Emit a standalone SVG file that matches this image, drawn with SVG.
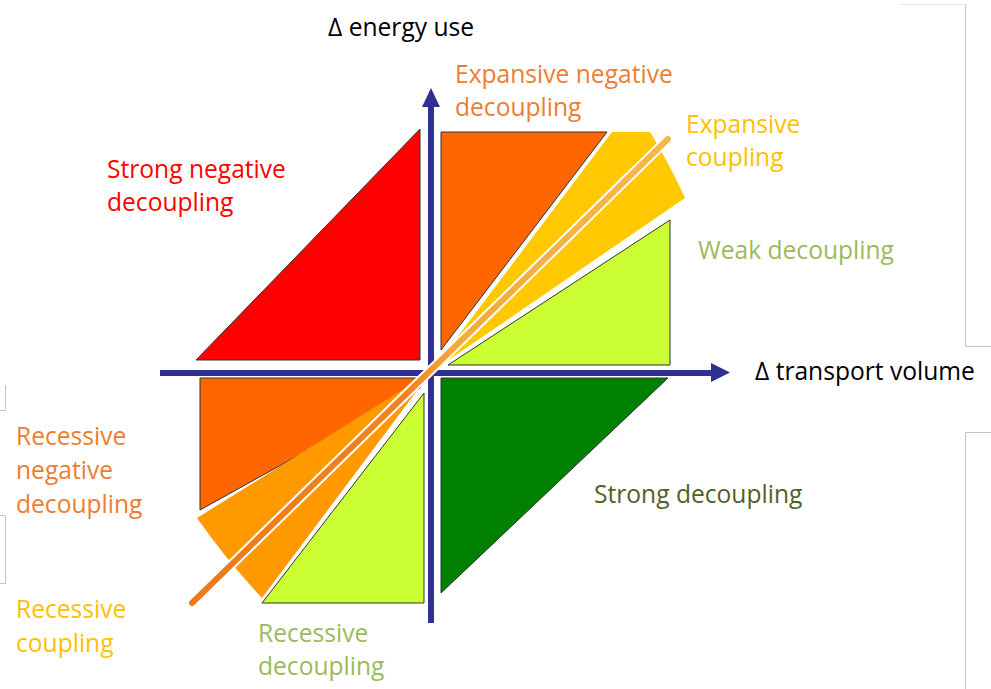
<svg xmlns="http://www.w3.org/2000/svg" width="991" height="689" viewBox="0 0 991 689">
<style>
.lbl{font-family:"Open Sans","Liberation Sans",sans-serif;font-size:24.6px}
.tri{stroke:#333;stroke-width:1}
.axis{stroke:#303092;stroke-width:6;fill:none}
.frame{stroke:#c4c4c4;stroke-width:1;fill:none}
</style>
<defs>
<linearGradient id="lg" gradientUnits="userSpaceOnUse" x1="668" y1="139" x2="192" y2="603">
<stop offset="0" stop-color="#f6b84a"/>
<stop offset="0.45" stop-color="#f4a93c"/>
<stop offset="0.55" stop-color="#ef841f"/>
<stop offset="1" stop-color="#ec7a1c"/>
</linearGradient>
</defs>
<rect width="991" height="689" fill="#fff"/>
<g id="frames">
<path d="M900 4.5H965.5" stroke="#e6e6e6" stroke-width="1" fill="none"/>
<path class="frame" d="M965.5 4.5V346.5H991"/>
<path class="frame" d="M991 432.5H965.5V689"/>
<path class="frame" d="M5.5 385V410.5H0"/>
<path class="frame" d="M0 515.5H5.5V583.5H0"/>
</g>
<g id="axes">
<line class="axis" x1="160" y1="373" x2="713" y2="373"/>
<polygon points="711,363 730,372.5 711,382" fill="#303092"/>
<line class="axis" x1="431" y1="623" x2="431" y2="106"/>
<polygon points="422,107 431,88 440,107" fill="#303092"/>
</g>
<g id="strong-negative-decoupling">
<polygon class="tri" points="196,360 420,360 420,129" fill="#ff0000"/>
</g>
<g id="expansive-negative-decoupling">
<polygon class="tri" points="441,132 607,132 441,350" fill="#ff6600"/>
</g>
<g id="weak-decoupling">
<polygon class="tri" points="448,365 670,365 670,220" fill="#ccff33"/>
</g>
<g id="strong-decoupling">
<polygon class="tri" points="441,378 668,378 441,593" fill="#008000"/>
</g>
<g id="recessive-negative-decoupling">
<polygon class="tri" points="200,378 420,378 420,388 200,510" fill="#ff6600"/>
</g>
<g id="recessive-decoupling">
<polygon class="tri" points="262,603 424,603 424,393" fill="#ccff33"/>
</g>
<g id="expansive-coupling">
<path d="M431,372 L612,132 L650,132 Q670,165 685,198 Z" fill="#ffc800"/>
</g>
<g id="recessive-coupling">
<path d="M431,372 L197,518 Q228,562 262,598 Z" fill="#ff9900"/>
</g>
<g id="connectors">
<line x1="668" y1="139" x2="192" y2="603" stroke="#fff" stroke-width="10" stroke-linecap="round"/>
<line x1="668" y1="139" x2="192" y2="603" stroke="url(#lg)" stroke-width="6" stroke-linecap="round"/>
</g>
<g id="labels">
<text class="lbl" x="328" y="36" fill="#000">Δ energy use</text>
<text class="lbl" x="755" y="380" fill="#000">Δ transport volume</text>
<text class="lbl" x="455" y="83" fill="#ed7d31">Expansive negative</text>
<text class="lbl" x="455" y="116" fill="#ed7d31">decoupling</text>
<text class="lbl" x="686" y="133" fill="#ffc000">Expansive</text>
<text class="lbl" x="686" y="166" fill="#ffc000">coupling</text>
<text class="lbl" x="107" y="178" fill="#ff0000">Strong negative</text>
<text class="lbl" x="107" y="211" fill="#ff0000">decoupling</text>
<text class="lbl" x="698" y="259" fill="#9bbb59">Weak decoupling</text>
<text class="lbl" x="594" y="503" fill="#4f6228">Strong decoupling</text>
<text class="lbl" x="16" y="445" fill="#ed7d31">Recessive</text>
<text class="lbl" x="16" y="479" fill="#ed7d31">negative</text>
<text class="lbl" x="16" y="513" fill="#ed7d31">decoupling</text>
<text class="lbl" x="16" y="618" fill="#ffc000">Recessive</text>
<text class="lbl" x="16" y="652" fill="#ffc000">coupling</text>
<text class="lbl" x="258" y="642" fill="#9bbb59">Recessive</text>
<text class="lbl" x="258" y="675" fill="#9bbb59">decoupling</text>
</g>
</svg>
